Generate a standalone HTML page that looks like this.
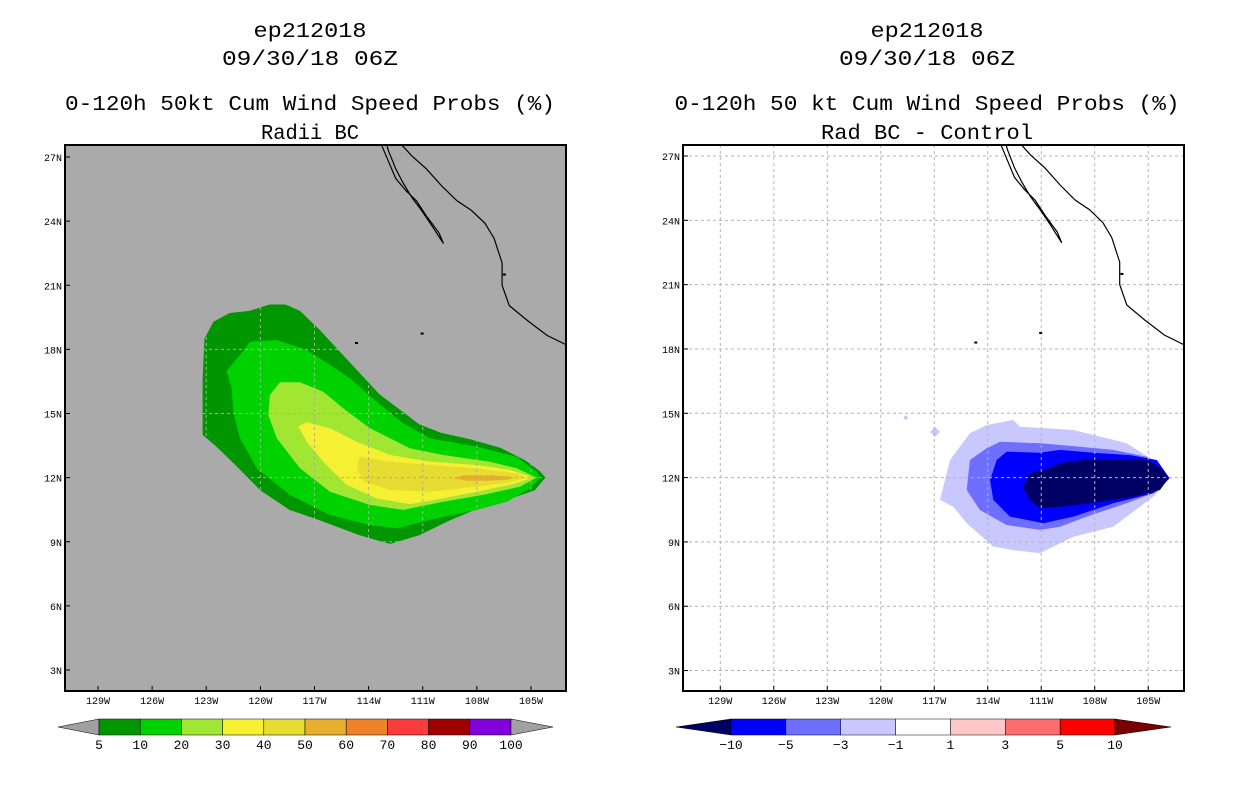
<!DOCTYPE html>
<html><head><meta charset="utf-8"><style>
body{margin:0;background:#fff;width:1236px;height:800px;overflow:hidden}
svg{display:block}
text{font-family:"Liberation Mono",monospace;fill:#000}
</style></head><body>
<svg id="c" width="1236" height="800"></svg>
<script>
// ---- data ----
const lonTicks=[-129,-126,-123,-120,-117,-114,-111,-108,-105];
const latTicks=[3,6,9,12,15,18,21,24,27];
const probLevels=[5,10,20,30,40,50,60,70,80,90,100];
const probColors=["#009600","#00d200","#a0e632","#f5f032","#e6dc32","#e6af2d","#f08228","#fa3c3c","#a00000","#8200dc"];
const diffLevels=["-10","-5","-3","-1","1","3","5","10"];
const diffColors=["#000064","#0000ff","#6e6eff","#c8c8ff","#ffffff","#ffc8c8","#ff6e6e","#ff0000","#780000"];
const prob5=[[-123.1,18.5],[-122.6,19.3],[-121.7,19.7],[-120.6,19.8],[-119.5,20.1],[-118.6,20.1],[-117.8,19.8],[-116.7,18.9],[-115.6,17.9],[-114.5,16.9],[-113.4,15.9],[-112.3,15.2],[-111.2,14.5],[-110,14.1],[-108.4,13.8],[-106.7,13.4],[-105.3,12.8],[-104.5,12.3],[-104.2,12],[-104.8,11.4],[-106.2,11],[-107.8,10.6],[-109.5,10],[-111.2,9.3],[-112.8,8.9],[-114.5,9.3],[-116.7,10],[-118.4,10.5],[-120,11.4],[-121.4,12.6],[-122.5,13.5],[-123.2,14],[-123.2,15.2],[-123.2,16.6]];
const prob10=[[-121.87,16.99],[-121.13,17.74],[-120.57,18.36],[-119.09,18.44],[-117.43,17.97],[-116.14,17.27],[-115.03,16.65],[-113.55,15.55],[-112.08,14.54],[-110.6,13.84],[-108,13.45],[-105.79,12.98],[-104.68,12.28],[-104.5,12],[-105.05,11.5],[-106.34,10.87],[-108,10.49],[-110.23,10.1],[-112.44,9.63],[-113.92,9.78],[-116.14,10.25],[-118.36,11.19],[-120.2,12.44],[-121.13,13.84],[-121.5,15.08],[-121.59,16.18]];
const prob20=[[-119.47,15.87],[-118.91,16.46],[-117.8,16.46],[-116.51,16.02],[-115.4,15.24],[-113.92,14.31],[-111.71,13.37],[-109.86,13.06],[-107.27,12.74],[-105.79,12.44],[-104.68,12],[-105.6,11.58],[-107.64,11.19],[-109.86,10.87],[-112.08,10.49],[-113.92,10.72],[-116.14,11.34],[-117.8,12.44],[-119.09,13.84],[-119.56,14.93]];
const prob30=[[-117.9,14.4],[-117.43,14.59],[-116.14,14.31],[-114.66,13.68],[-112.81,13.06],[-110.6,12.74],[-108,12.59],[-106.16,12.36],[-104.87,12],[-106.16,11.66],[-108,11.34],[-109.86,11.03],[-111.71,10.75],[-113.55,11.03],[-115.22,11.66],[-116.51,12.74],[-117.43,13.68]];
const prob40=[[-114.48,12.98],[-112.81,12.74],[-110.6,12.59],[-108,12.44],[-105.79,12.2],[-105.24,12],[-106.16,11.78],[-108,11.58],[-110.6,11.34],[-112.81,11.42],[-114.29,11.81],[-114.66,12.44]];
const prob50=[[-109.31,11.98],[-108.75,12.11],[-107.27,12.11],[-105.98,12.03],[-106.16,11.92],[-107.27,11.85],[-108.56,11.85]];
const diff1=[[-116.68,10.96],[-116.12,12.82],[-115,14.07],[-114.06,14.45],[-112.57,14.69],[-112.19,14.37],[-110.69,14.3],[-109.2,14.22],[-108.08,13.99],[-106.21,13.6],[-104.72,12.82],[-103.8,11.97],[-104.72,11.11],[-106.96,9.71],[-109.2,9.24],[-111.07,8.47],[-112.57,8.62],[-113.69,8.78],[-115.18,9.87],[-115.93,10.64]];
const diff3=[[-115.18,11.42],[-115,12.82],[-114.06,13.37],[-113.31,13.67],[-111.07,13.6],[-109.2,13.47],[-106.96,13.29],[-105.08,12.97],[-104.15,12.35],[-103.8,11.97],[-104.52,11.34],[-106.21,10.8],[-108.45,10.18],[-109.95,9.71],[-111.07,9.56],[-112.94,9.79],[-114.44,10.49]];
const diff5=[[-113.87,11.89],[-113.5,12.82],[-112.94,13.21],[-111.07,13.16],[-109.95,13.29],[-108.08,13.16],[-106.02,13.05],[-104.52,12.82],[-103.8,11.97],[-104.72,11.27],[-106.96,10.8],[-109.2,10.18],[-110.88,9.87],[-112.75,10.18],[-113.69,10.96]];
const diff10=[[-112,11.58],[-111.63,12.2],[-110.51,12.43],[-109.95,12.67],[-108.45,12.85],[-105.09,12.85],[-104.15,12.35],[-103.87,11.97],[-104.34,11.42],[-105.84,11.11],[-108.08,10.83],[-109.95,10.64],[-111.07,10.57],[-111.63,10.96]];
const diffSpecks=[[-116.96,14.13],[-118.6,14.8]];
const bajaCoast=[[-113.3,27.6],[-112.9,26.8],[-112.5,26.0],[-111.9,25.4],[-111.35,24.95],[-110.8,24.25],[-110.1,23.45],[-109.85,22.95],[-110.5,23.8],[-111.07,24.5],[-111.6,25.1],[-112.1,25.8],[-112.5,26.45],[-112.9,27.3],[-113.0,27.6]];
const mainCoast=[[-112.2,27.6],[-111.6,27.05],[-110.8,26.45],[-109.95,25.65],[-109.1,24.95],[-108.3,24.5],[-107.55,23.9],[-107.05,23.2],[-106.6,22.05],[-106.6,21.0],[-106.2,20.05],[-105.2,19.35],[-104.1,18.65],[-103.0,18.2]];
const islands=[[-111.06,18.74],[-114.7,18.3],[-106.5,21.5]];

// ---- helpers ----
const NS="http://www.w3.org/2000/svg";
const svg=document.getElementById('c');
function mk(tag,attrs,parent){const e=document.createElementNS(NS,tag);for(const k in attrs)e.setAttribute(k,attrs[k]);(parent||svg).appendChild(e);return e;}
function makeProj(x0,kx,y0,ky){return {x:lon=>x0+(lon+129)*kx,y:lat=>y0+(27-lat)*ky};}
const PL=makeProj(98,18.04,157,21.375);
const PR=makeProj(720.3,17.83,156,21.44);
function pts(P,arr){return arr.map(p=>P.x(p[0]).toFixed(1)+','+P.y(p[1]).toFixed(1)).join(' ');}
function lonLabel(v){return Math.abs(v)+'W';}

function panel(P,fx,bg,name){
  const g=mk('g',{});
  
  
  const cid='clip'+name;
  const cp=mk('clipPath',{id:cid},g);mk('rect',{x:fx,y:145,width:501,height:546},cp);
  const bgr=mk('rect',{x:fx,y:145,width:501,height:546,fill:bg},g);
  
  
  const inner=mk('g',{'clip-path':'url(#'+cid+')'},g);
  return {g,inner};
}
function grid(P,fx,parent,col){
  lonTicks.forEach(v=>{const x=P.x(v);
    const l=mk('line',{x1:x,y1:145,x2:x,y2:691,stroke:col,'stroke-width':1,'stroke-dasharray':'3,3'},parent);
    });
  latTicks.forEach(v=>{const y=P.y(v);
    const l=mk('line',{x1:fx,y1:y,x2:fx+501,y2:y,stroke:col,'stroke-width':1,'stroke-dasharray':'3,3'},parent);
    });
}
function axes(P,fx,g){
  lonTicks.forEach(v=>{const x=P.x(v);
    mk('line',{x1:x,y1:691,x2:x,y2:686,stroke:'#000'},g);
    const t=mk('text',{x:x,y:704,'font-size':10,'text-anchor':'middle','font-family':'Liberation Sans'},g);t.textContent=lonLabel(v);
    });
  latTicks.forEach(v=>{const y=P.y(v);
    mk('line',{x1:fx,y1:y,x2:fx+5,y2:y,stroke:'#000'},g);
    const t=mk('text',{x:fx-3,y:y+4,'font-size':10,'text-anchor':'end','font-family':'Liberation Sans'},g);t.textContent=v+'N';
    });
  const f=mk('rect',{x:fx,y:145,width:501,height:546,fill:'none',stroke:'#000','stroke-width':2},g);
  
}
function coast(P,parent){
  [bajaCoast,mainCoast].forEach(c=>{const l=mk('polyline',{points:pts(P,c),fill:'none',stroke:'#000','stroke-width':1.2},parent);
    });
  islands.forEach(p=>{const r=mk('rect',{x:P.x(p[0])-1,y:P.y(p[1])-1,width:3,height:2,fill:'#000'},parent);
    });
}
function title(cx,lines,widths){
  const ys=[37,65,110,139];
  lines.forEach((s,i)=>{const t=mk('text',{x:cx,y:ys[i],'font-size':21,'text-anchor':'middle',textLength:widths[i],lengthAdjust:'spacingAndGlyphs'});t.textContent=s;
    });
}

// ---- left panel ----
const L=panel(PL,65,'#aaaaaa','left-panel');
[[prob5,0],[prob10,1],[prob20,2],[prob30,3],[prob40,4],[prob50,5]].forEach(([a,i])=>{
  const p=mk('polygon',{points:pts(PL,a),fill:probColors[i]},L.inner);
  
  
});
grid(PL,65,L.inner,'#aaaaaa');
coast(PL,L.inner);
axes(PL,65,L.g);
title(310,['ep212018','09/30/18 06Z','0-120h 50kt Cum Wind Speed Probs (%)','Radii BC'],[113,176,490,98]);

// ---- right panel ----
const R=panel(PR,683,'#ffffff','right-panel');
[[diff1,3],[diff3,2],[diff5,1],[diff10,0]].forEach(([a,i])=>{
  const p=mk('polygon',{points:pts(PR,a),fill:diffColors[i]},R.inner);
  
  
});
diffSpecks.forEach((s,i)=>{const x=PR.x(s[0]),y=PR.y(s[1]),r=i?2.5:5;
  const p=mk('polygon',{points:`${x},${y-r} ${x+r},${y} ${x},${y+r} ${x-r},${y}`,fill:diffColors[3]},R.inner);
  });
grid(PR,683,R.inner,'#b4b4b4');
coast(PR,R.inner);
axes(PR,683,R.g);
title(927,['ep212018','09/30/18 06Z','0-120h 50 kt Cum Wind Speed Probs (%)','Rad BC - Control'],[113,176,505,212]);

// ---- colorbars ----
function colorbar(x0,step,tipL,tipR,colors,labels,leftCol,rightCol,name){
  const g=mk('g',{});
  const y1=719,y2=735,ym=727;
  const n=colors.length;
  const lt=mk('polygon',{points:`${tipL},${ym} ${x0},${y1} ${x0},${y2}`,fill:leftCol,stroke:'#000','stroke-width':0.5},g);
  
  colors.forEach((c,i)=>{const r=mk('rect',{x:x0+i*step,y:y1,width:step,height:y2-y1,fill:c,stroke:'#000','stroke-width':0.5},g);
    });
  const xe=x0+n*step;
  const rt=mk('polygon',{points:`${xe},${y1} ${tipR},${ym} ${xe},${y2}`,fill:rightCol,stroke:'#000','stroke-width':0.5},g);
  
  labels.forEach((s,i)=>{const t=mk('text',{x:x0+i*step,y:749,'font-size':13,'text-anchor':'middle','font-family':'Liberation Sans'},g);t.textContent=s;
    });
}
colorbar(99,41.2,58,553,probColors,probLevels.map(String),'#a0a0a0','#a0a0a0','prob-colorbar');
colorbar(731,54.86,676,1171,diffColors.slice(1,8),diffLevels.map(s=>s.replace('-','\u2212')),diffColors[0],diffColors[8],'diff-colorbar');
</script>
</body></html>
